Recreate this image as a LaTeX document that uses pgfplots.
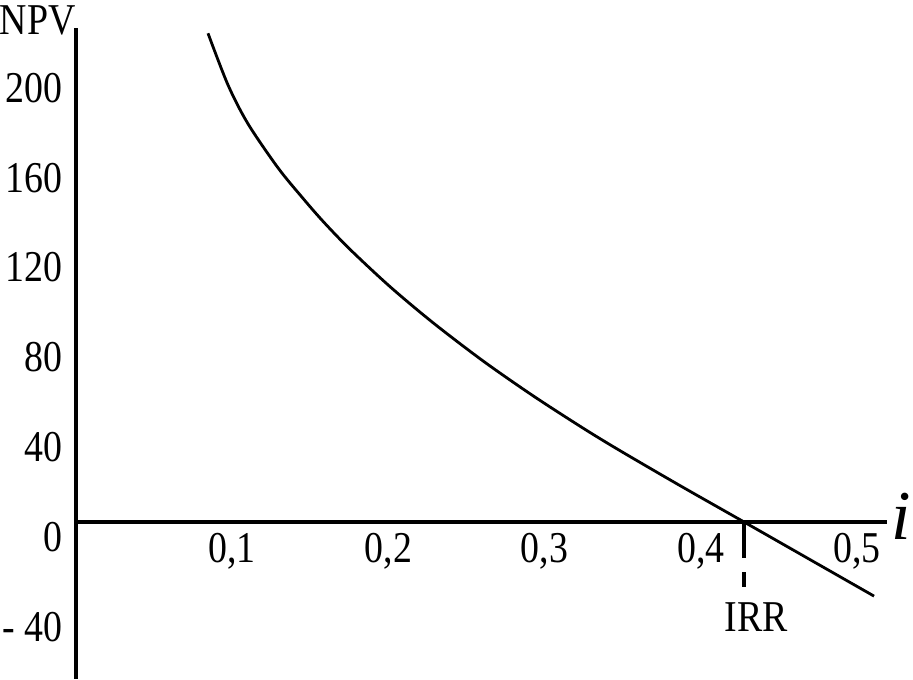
\documentclass[border=0pt]{standalone}
\usepackage{fontspec}
\setmainfont{Liberation Serif}[FakeStretch=0.86]
\newfontfamily\ifont{Liberation Serif}
\usepackage{pgfplots}
\pgfplotsset{compat=1.18}
\begin{document}
\begin{tikzpicture}
\useasboundingbox (-38pt,-78.5pt) rectangle (418.5pt,261pt);
\begin{axis}[
  at={(0,0)}, anchor=origin,
  x=781pt, y=1.123pt,
  xmin=0, xmax=0.5192, ymin=-69.9, ymax=219.9,
  axis lines=middle,
  axis line style={-, line width=1.8pt},
  every inner x axis line/.append style={-},
  every inner y axis line/.append style={-},
  hide obscured x ticks=false, hide obscured y ticks=false,
  major tick length=0pt,
  clip=false,
  font=\fontsize{22pt}{24pt}\selectfont,
  xtick={0.1,0.2,0.3,0.4,0.5},
  xticklabels={{0,1},{0,2},{0,3},{0,4},{0,5}},
  ytick={-40,0,40,80,120,160,200},
  yticklabels={{- 40},0,40,80,120,160,200},
  xticklabel style={anchor=north, inner sep=0pt, yshift=-5.5pt},
  yticklabel style={anchor=east, inner sep=0pt, xshift=-6.5pt, yshift=-7.5pt},
  /pgf/number format/assume math mode=true,
]
\addplot[black, line width=1.4pt, smooth, tension=0.5] coordinates {
(0.0845,217.6) (0.0973,194.6) (0.1101,177.3) (0.1293,157.7) (0.1447,144.6)
(0.1581,133.9) (0.1754,121.4) (0.2010,104.8) (0.2286,88.7) (0.2606,71.7)
(0.2926,56.2) (0.3246,41.8) (0.3483,31.75) (0.3867,16.2)
(0.4277,0) (0.5109,-33.0)
};
\addplot[black, line width=1.6pt, dash pattern=on 18pt off 7pt on 7.5pt off 100pt] coordinates {(0.4277,0) (0.4277,-28.9)};
\node[inner sep=0pt, anchor=north, font=\fontsize{22pt}{24pt}\selectfont] at (axis cs:0.4277,-28.9) [xshift=6pt, yshift=-7.5pt] {IRR};
\node[inner sep=0pt, font=\fontsize{22pt}{24pt}\selectfont] at (axis cs:-0.0245,223.5) {NPV};
\node[inner sep=0pt, font=\ifont\fontsize{35pt}{36pt}\selectfont\itshape] at (axis cs:0.5282,2.7) {i};
\end{axis}
\end{tikzpicture}
\end{document}
